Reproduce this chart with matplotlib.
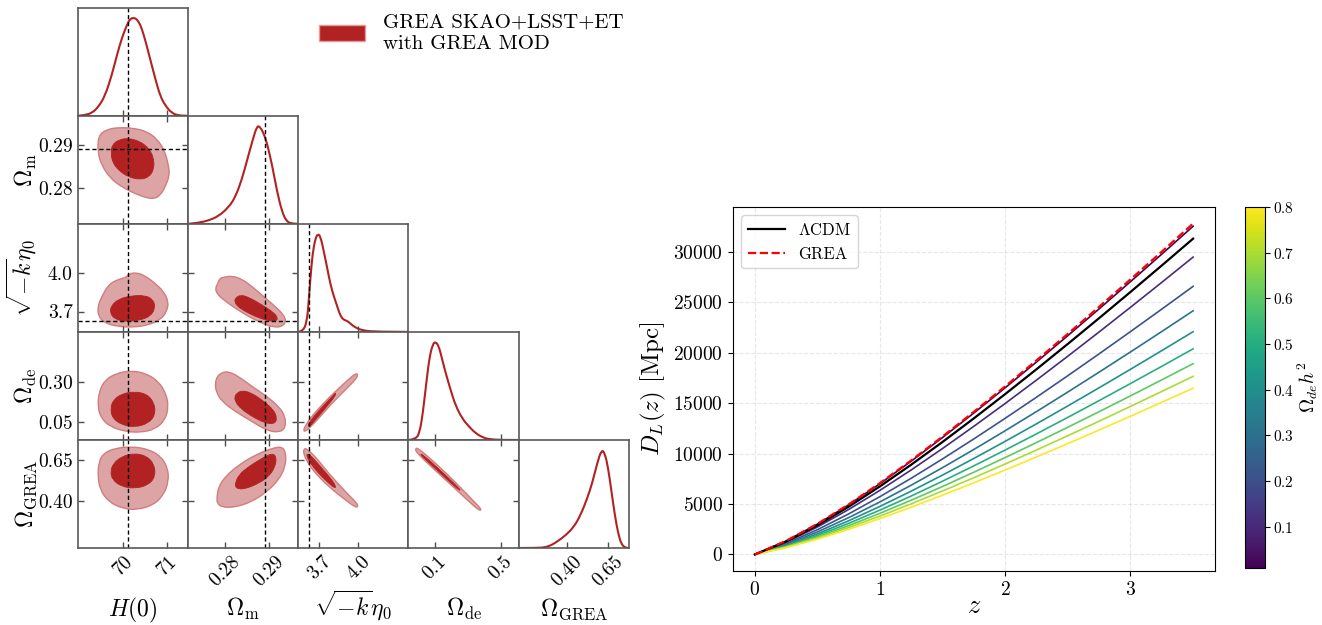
import numpy as np
import matplotlib.pyplot as plt
from matplotlib.path import Path
from matplotlib.patches import PathPatch, Patch
from matplotlib import colors

plt.rcParams['font.family'] = 'serif'
plt.rcParams['font.serif'] = ['cmr10']
plt.rcParams['mathtext.fontset'] = 'cm'
plt.rcParams['axes.unicode_minus'] = False
plt.rcParams['axes.formatter.use_mathtext'] = True

# ---------------- corner plot data ----------------
par_labels = [r'$H(0)$', r'$\Omega_{\rm m}$', r'$\sqrt{-k}\eta_0$',
              r'$\Omega_{\rm de}$', r'$\Omega_{\rm GREA}$']
par_ranges = [(68.95, 71.48), (0.2717, 0.2967), (3.542, 4.38),
              (-0.058, 0.607), (0.113, 0.775)]
par_ticks = [[70, 71], [0.28, 0.29], [3.7, 4.0], [0.1, 0.5], [0.40, 0.65]]
par_ticklabels = [['70', '71'], ['0.28', '0.29'], ['3.7', '4.0'],
                  ['0.1', '0.5'], ['0.40', '0.65']]
row_ticks = [None, [0.28, 0.29], [3.7, 4.0], [0.05, 0.30], [0.40, 0.65]]
row_ticklabels = [None, ['0.28', '0.29'], ['3.7', '4.0'],
                  ['0.05', '0.30'], ['0.40', '0.65']]
truths = [70.1, 0.2891, 3.625, None, None]

# 1D marginals (normalised to peak = 1)
h0_x = [68.96, 69.12, 69.27, 69.42, 69.58, 69.73, 69.85, 69.96, 70.08, 70.15, 70.25,
        70.34, 70.42, 70.51, 70.61, 70.73, 70.84, 70.96, 71.11, 71.26, 71.46]
h0_p = [0, 0.007, 0.027, 0.086, 0.205, 0.411, 0.616, 0.788, 0.925, 0.986, 1.0,
        0.966, 0.890, 0.753, 0.582, 0.377, 0.205, 0.103, 0.027, 0.003, 0]
om_x = [0.27184, 0.27411, 0.27638, 0.27865, 0.28092, 0.28244, 0.28396, 0.28509,
        0.28623, 0.28736, 0.28811, 0.28886, 0.28963, 0.29077, 0.29190, 0.29304,
        0.29401, 0.29492, 0.29667]
om_p = [0, 0.010, 0.034, 0.078, 0.169, 0.271, 0.458, 0.644, 0.831, 1.0, 0.983,
        0.92, 0.82, 0.6, 0.33, 0.12, 0.03, 0.005, 0]
sk_x = [3.544, 3.582, 3.608, 3.620, 3.633, 3.651, 3.672, 3.692, 3.712, 3.735, 3.761,
        3.786, 3.811, 3.837, 3.862, 3.887, 3.913, 3.938, 3.976, 4.027, 4.104, 4.38]
sk_p = [0, 0.010, 0.113, 0.283, 0.522, 0.795, 0.949, 1.0, 0.966, 0.829, 0.659,
        0.488, 0.369, 0.266, 0.164, 0.123, 0.113, 0.085, 0.044, 0.017, 0.003, 0]
de_x = [-0.056, -0.016, 0.0085, 0.0286, 0.049, 0.069, 0.089, 0.105, 0.125, 0.146,
        0.170, 0.196, 0.226, 0.267, 0.307, 0.347, 0.388, 0.427, 0.508, 0.605]
de_p = [0, 0.007, 0.068, 0.271, 0.576, 0.847, 0.976, 1.0, 0.956, 0.814,
        0.66, 0.51, 0.35, 0.215, 0.136, 0.068, 0.027, 0.007, 0, 0]
gr_x = [0.115, 0.215, 0.275, 0.315, 0.354, 0.395, 0.444, 0.484, 0.524, 0.554,
        0.584, 0.610, 0.630, 0.650, 0.670, 0.690, 0.710, 0.730, 0.754, 0.774]
gr_p = [0, 0, 0.007, 0.034, 0.078, 0.130, 0.215, 0.334, 0.505, 0.659,
        0.863, 1.0, 0.966, 0.812, 0.573, 0.334, 0.147, 0.034, 0.003, 0]

# 2D contours (68% inner, 95% outer), vertices (x, y)
h0_om_out = [(69.425, 0.29215), (69.616, 0.29353), (69.885, 0.29399), (70.230, 0.29384),
             (70.536, 0.29307), (70.766, 0.29138), (70.943, 0.28869), (71.035, 0.28522),
             (71.058, 0.28292), (70.958, 0.28022), (70.843, 0.27830), (70.713, 0.27753),
             (70.536, 0.27768), (70.268, 0.27868), (69.961, 0.28022), (69.693, 0.28230),
             (69.501, 0.28522), (69.409, 0.28830)]
h0_om_in = [(69.731, 0.28984), (69.885, 0.29115), (70.115, 0.29153), (70.383, 0.29076),
            (70.575, 0.28922), (70.690, 0.28715), (70.705, 0.28445), (70.590, 0.28253),
            (70.383, 0.28191), (70.115, 0.28253), (69.885, 0.28407), (69.747, 0.28599),
            (69.716, 0.28792)]
h0_sk_out = [(69.655, 3.907), (69.846, 3.945), (70.076, 3.966), (70.115, 3.992),
             (70.306, 4.002), (70.498, 3.976), (70.728, 3.919), (70.920, 3.855),
             (71.035, 3.777), (70.996, 3.700), (70.843, 3.635), (70.575, 3.596),
             (70.230, 3.578), (69.885, 3.583), (69.578, 3.609), (69.425, 3.661),
             (69.409, 3.738), (69.501, 3.816)]
h0_sk_in = [(69.716, 3.744), (69.885, 3.795), (70.153, 3.821), (70.498, 3.826),
            (70.690, 3.790), (70.728, 3.725), (70.613, 3.661), (70.345, 3.630),
            (70.038, 3.622), (69.808, 3.640), (69.693, 3.687)]
h0_de_out = [(69.578, 0.312), (69.846, 0.353), (70.191, 0.369), (70.536, 0.349),
             (70.805, 0.301), (70.973, 0.230), (71.035, 0.148), (70.958, 0.065),
             (70.728, 0.008), (70.383, -0.012), (70.038, -0.006), (69.693, 0.024),
             (69.486, 0.076), (69.409, 0.148), (69.440, 0.240)]
h0_de_in = [(69.770, 0.189), (69.961, 0.225), (70.230, 0.240), (70.536, 0.225),
            (70.713, 0.168), (70.728, 0.096), (70.575, 0.045), (70.268, 0.020),
            (69.961, 0.035), (69.747, 0.076), (69.701, 0.137)]
h0_gr_out = [(69.540, 0.6935), (69.808, 0.7242), (70.191, 0.7344), (70.575, 0.7181),
             (70.866, 0.6731), (71.019, 0.6016), (71.035, 0.5199), (70.920, 0.4381),
             (70.690, 0.3768), (70.306, 0.3462), (69.961, 0.3564), (69.655, 0.3973),
             (69.463, 0.4688), (69.409, 0.5608), (69.440, 0.6425)]
h0_gr_in = [(69.770, 0.6322), (69.961, 0.6731), (70.230, 0.6935), (70.536, 0.6772),
            (70.713, 0.6220), (70.728, 0.5505), (70.575, 0.4994), (70.268, 0.4769),
            (69.961, 0.4892), (69.747, 0.5301), (69.701, 0.5811)]
om_sk_out = [(0.27790, 3.881), (0.27851, 3.919), (0.27889, 3.956), (0.27979, 3.966),
             (0.28168, 3.976), (0.28396, 3.951), (0.28623, 3.894), (0.28887, 3.816),
             (0.29152, 3.738), (0.29341, 3.674), (0.29394, 3.622), (0.29304, 3.583),
             (0.29115, 3.578), (0.28850, 3.609), (0.28547, 3.661), (0.28244, 3.725),
             (0.27979, 3.790), (0.27828, 3.837)]
om_sk_in = [(0.28244, 3.803), (0.28358, 3.829), (0.28547, 3.811), (0.28850, 3.751),
            (0.29115, 3.692), (0.29213, 3.648), (0.29152, 3.622), (0.28963, 3.630),
            (0.28699, 3.661), (0.28433, 3.707), (0.28282, 3.744), (0.28229, 3.777)]
om_de_out = [(0.27828, 0.332), (0.27941, 0.357), (0.28093, 0.363), (0.28320, 0.332),
             (0.28623, 0.271), (0.28963, 0.209), (0.29228, 0.148), (0.29379, 0.086),
             (0.29379, 0.014), (0.29228, -0.012), (0.28963, 0.000), (0.28623, 0.055),
             (0.28244, 0.117), (0.27941, 0.178), (0.27805, 0.240), (0.27790, 0.291)]
om_de_in = [(0.28282, 0.230), (0.28396, 0.246), (0.28585, 0.234), (0.28850, 0.189),
            (0.29115, 0.127), (0.29190, 0.076), (0.29137, 0.041), (0.28925, 0.045),
            (0.28623, 0.086), (0.28358, 0.137), (0.28244, 0.178), (0.28229, 0.209)]
om_gr_out = [(0.27828, 0.4279), (0.27866, 0.4892), (0.28017, 0.5505), (0.28320, 0.6220),
             (0.28699, 0.6833), (0.29077, 0.7241), (0.29304, 0.7344), (0.29394, 0.6935),
             (0.29379, 0.6118), (0.29228, 0.5300), (0.28963, 0.4585), (0.28623, 0.3973),
             (0.28244, 0.3626), (0.27941, 0.3626), (0.27828, 0.3871)]
om_gr_in = [(0.28244, 0.5097), (0.28320, 0.5607), (0.28547, 0.6118), (0.28850, 0.6629),
            (0.29077, 0.6935), (0.29175, 0.6731), (0.29152, 0.6118), (0.29001, 0.5505),
            (0.28774, 0.5097), (0.28509, 0.4790), (0.28320, 0.4729), (0.28244, 0.4892)]
sk_de_out = [(3.590, 0.020), (3.633, 0.076), (3.722, 0.158), (3.824, 0.240),
             (3.926, 0.316), (3.981, 0.353), (3.997, 0.342), (3.976, 0.312),
             (3.900, 0.250), (3.799, 0.168), (3.710, 0.086), (3.633, 0.020),
             (3.595, -0.006), (3.583, 0.000)]
sk_de_in = [(3.616, 0.035), (3.659, 0.086), (3.735, 0.154), (3.811, 0.219),
            (3.829, 0.234), (3.824, 0.213), (3.760, 0.148), (3.684, 0.076),
            (3.633, 0.028), (3.621, 0.024)]
sk_gr_out = [(3.583, 0.7139), (3.600, 0.7262), (3.672, 0.6731), (3.773, 0.5709),
             (3.900, 0.4586), (3.989, 0.3870), (3.997, 0.3666), (3.976, 0.3625),
             (3.900, 0.4075), (3.773, 0.4892), (3.672, 0.5709), (3.608, 0.6424),
             (3.583, 0.6935)]
sk_gr_in = [(3.608, 0.6935), (3.646, 0.6731), (3.722, 0.6016), (3.799, 0.5300),
            (3.829, 0.4892), (3.819, 0.4790), (3.760, 0.5199), (3.684, 0.5811),
            (3.626, 0.6424), (3.608, 0.6731)]
de_gr_out = [(-0.016, 0.7180), (-0.006, 0.7282), (0.065, 0.6690), (0.166, 0.5750),
             (0.266, 0.4729), (0.357, 0.3768), (0.381, 0.3503), (0.371, 0.3401),
             (0.307, 0.3973), (0.206, 0.4933), (0.105, 0.5873), (0.025, 0.6629),
             (-0.012, 0.7037)]
de_gr_in = [(0.015, 0.6935), (0.065, 0.6527), (0.166, 0.5587), (0.246, 0.4790),
            (0.256, 0.4647), (0.240, 0.4729), (0.156, 0.5505), (0.065, 0.6363),
            (0.019, 0.6792)]

marginals = [(h0_x, h0_p), (om_x, om_p), (sk_x, sk_p), (de_x, de_p), (gr_x, gr_p)]
contours = {(1, 0): (h0_om_out, h0_om_in), (2, 0): (h0_sk_out, h0_sk_in),
            (3, 0): (h0_de_out, h0_de_in), (4, 0): (h0_gr_out, h0_gr_in),
            (2, 1): (om_sk_out, om_sk_in), (3, 1): (om_de_out, om_de_in),
            (4, 1): (om_gr_out, om_gr_in), (3, 2): (sk_de_out, sk_de_in),
            (4, 2): (sk_gr_out, sk_gr_in), (4, 3): (de_gr_out, de_gr_in)}

# ---------------- luminosity distance data ----------------
z_vals = [0, 0.25, 0.5, 0.75, 1.0, 1.25, 1.5, 1.75, 2.0, 2.25, 2.5, 2.75, 3.0, 3.25, 3.5]
dl_lcdm = [0, 1288, 2899, 4745, 6766, 8919, 11175, 13514, 15920, 18383, 20895,
           23451, 26044, 28670, 31330]
dl_grea = [0, 1350, 3038, 4972, 7090, 9346, 11710, 14161, 16683, 19263, 21896,
           24574, 27292, 30043, 32831]
omega_de_h2 = [0.01, 0.109, 0.208, 0.306, 0.405, 0.504, 0.603, 0.701, 0.8]
dl_family = [
    [0, 1339, 3013, 4931, 7032, 9270, 11614, 14045, 16546, 19105, 21716, 24373, 27067, 29797, 32561],
    [0, 1213, 2730, 4468, 6371, 8398, 10522, 12725, 14990, 17309, 19675, 22081, 24523, 26996, 29500],
    [0, 1094, 2461, 4029, 5744, 7572, 9488, 11473, 13516, 15607, 17740, 19910, 22111, 24341, 26599],
    [0, 994, 2237, 3661, 5220, 6881, 8621, 10426, 12282, 14182, 16120, 18092, 20093, 22119, 24171],
    [0, 909, 2045, 3347, 4773, 6291, 7883, 9533, 11230, 12967, 14739, 16542, 18371, 20224, 22100],
    [0, 839, 1888, 3089, 4405, 5807, 7276, 8799, 10366, 11969, 13605, 15269, 16957, 18667, 20399],
    [0, 778, 1752, 2867, 4088, 5389, 6752, 8165, 9619, 11107, 12625, 14169, 15736, 17322, 18930],
    [0, 726, 1635, 2676, 3816, 5030, 6303, 7622, 8979, 10368, 11785, 13226, 14689, 16170, 17670],
    [0, 678, 1527, 2499, 3563, 4697, 5885, 7116, 8384, 9681, 11003, 12349, 13715, 15098, 16498],
]

RED = '#b22222'
LIGHT = '#dca4a4'
LIGHT_EDGE = '#d27d7d'


def smooth_closed(verts):
    # closed quadratic B-spline through the read outline
    pts = np.asarray(verts, dtype=float)
    mids = (pts + np.roll(pts, -1, axis=0)) / 2
    path_v = [mids[-1]]
    codes = [Path.MOVETO]
    for k in range(len(pts)):
        path_v += [pts[k], mids[k]]
        codes += [Path.CURVE3, Path.CURVE3]
    path_v.append(mids[-1])
    codes.append(Path.CLOSEPOLY)
    return Path(path_v, codes)


def smooth_open(xs, ys):
    pts = np.column_stack([xs, ys]).astype(float)
    path_v = [pts[0]]
    codes = [Path.MOVETO]
    for k in range(1, len(pts) - 1):
        path_v += [pts[k], (pts[k] + pts[k + 1]) / 2]
        codes += [Path.CURVE3, Path.CURVE3]
    path_v.append(pts[-1])
    codes.append(Path.LINETO)
    return Path(path_v, codes)


fig = plt.figure(figsize=(13.22, 6.25), dpi=100)
W, H = 1322.0, 625.0
cw, ch = 110.26, 108.06
x0, y0 = 77.7, 7.7
n = 5

for i in range(n):
    for j in range(i + 1):
        left = x0 + j * cw
        top = y0 + i * ch
        ax = fig.add_axes([left / W, 1 - (top + ch) / H, cw / W, ch / H])
        for s in ax.spines.values():
            s.set_color('0.35')
            s.set_linewidth(1.2)
        ax.set_xlim(par_ranges[j])
        ax.set_xticks(par_ticks[j])
        ax.tick_params(direction='in', length=4, width=1, color='0.3', labelsize=14)
        if i == j:
            xs, ps = marginals[i]
            ax.add_patch(PathPatch(smooth_open(xs, ps), facecolor='none',
                                   edgecolor=RED, lw=1.5))
            ax.set_ylim(0, 1.1)
            ax.set_yticks([])
            if truths[i] is not None:
                ax.axvline(truths[i], color='k', ls=(0, (3, 2)), lw=1)
        else:
            outer, inner = contours[(i, j)]
            ax.add_patch(PathPatch(smooth_closed(outer), facecolor=LIGHT,
                                   edgecolor=LIGHT_EDGE, lw=1))
            ax.add_patch(PathPatch(smooth_closed(inner), facecolor=RED,
                                   edgecolor=RED, lw=0.6))
            ax.set_ylim(par_ranges[i])
            ax.set_yticks(row_ticks[i])
            ax.tick_params(top=True, right=True)
            if truths[j] is not None:
                ax.axvline(truths[j], color='k', ls=(0, (3, 2)), lw=1)
            if truths[i] is not None:
                ax.axhline(truths[i], color='k', ls=(0, (3, 2)), lw=1)
        if i == n - 1:
            ax.set_xticklabels(par_ticklabels[j], rotation=45, ha='center')
            ax.set_xlabel(par_labels[j], fontsize=17)
            ax.xaxis.label.set_verticalalignment('baseline')
            ax.xaxis.set_label_coords(0.5, -0.63)
        else:
            ax.set_xticklabels([])
        if j == 0 and i > 0:
            ax.set_yticklabels(row_ticklabels[i])
            ax.set_ylabel(par_labels[i], fontsize=17)
            ax.yaxis.set_label_coords(-0.35, 0.5)
        elif i != j:
            ax.set_yticklabels([])

fig.legend(handles=[Patch(facecolor=RED, edgecolor='#e39a9a')],
           labels=['GREA SKAO+LSST+ET\nwith GREA MOD'],
           loc='upper left', bbox_to_anchor=(319 / W, 1 - 14 / H),
           frameon=False, fontsize=15, borderpad=0, borderaxespad=0,
           handlelength=2.2, handleheight=0.75, handletextpad=0.85)

# ---------------- right panel ----------------
ax2 = fig.add_axes([733 / W, 1 - 571 / H, (1215 - 733) / W, (571 - 207) / H])
cmap = plt.cm.viridis
norm = colors.Normalize(vmin=0.01, vmax=0.8)
for val, dl in zip(omega_de_h2, dl_family):
    ax2.plot(z_vals, dl, color=cmap(norm(val)), lw=1.2)
ax2.plot(z_vals, dl_lcdm, color='k', lw=1.6, label=r'$\Lambda$CDM')
ax2.plot(z_vals, dl_grea, color='r', ls='--', lw=1.6, label='GREA')
ax2.set_xticks([0, 1, 2, 3])
ax2.set_yticks([0, 5000, 10000, 15000, 20000, 25000, 30000])
ax2.tick_params(labelsize=14)
ax2.grid(True, ls='--', lw=0.8, alpha=0.3)
ax2.set_xlabel(r'$z$', fontsize=19, labelpad=-3)
ax2.set_ylabel(r'$D_L(z)$ [Mpc]', fontsize=18)
ax2.legend(loc='upper left', fontsize=12, handlelength=2.2)

cax = fig.add_axes([1245 / W, 1 - 568 / H, 20 / W, 361 / H])
sm = plt.cm.ScalarMappable(norm=norm, cmap=cmap)
cb = fig.colorbar(sm, cax=cax)
cb.set_ticks([0.1, 0.2, 0.3, 0.4, 0.5, 0.6, 0.7, 0.8])
cb.ax.tick_params(labelsize=11, pad=2)
cb.set_label(r'$\Omega_{de}h^2$', fontsize=14, labelpad=1)

fig.savefig('out.png', dpi=100)
